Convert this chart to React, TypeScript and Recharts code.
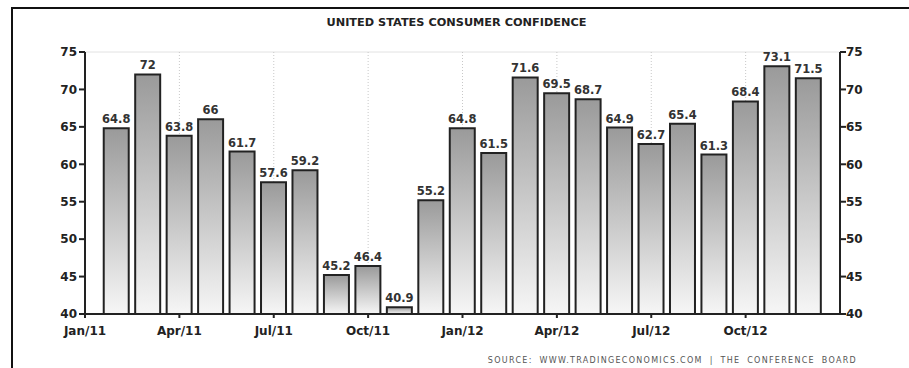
import {
  BarChart,
  Bar,
  XAxis,
  YAxis,
  CartesianGrid,
  LabelList,
} from "recharts";

// monthly readings, Jan/11 .. Nov/12
const months = [
  "Jan/11", "Feb/11", "Mar/11", "Apr/11", "May/11", "Jun/11",
  "Jul/11", "Aug/11", "Sep/11", "Oct/11", "Nov/11", "Dec/11",
  "Jan/12", "Feb/12", "Mar/12", "Apr/12", "May/12", "Jun/12",
  "Jul/12", "Aug/12", "Sep/12", "Oct/12", "Nov/12",
];
const confidence = [
  64.8, 72, 63.8, 66, 61.7, 57.6, 59.2, 45.2, 46.4, 40.9, 55.2, 64.8,
  61.5, 71.6, 69.5, 68.7, 64.9, 62.7, 65.4, 61.3, 68.4, 73.1, 71.5,
];
const xTicks = [0, 3, 6, 9, 12, 15, 18, 21];
const xTickLabels = ["Jan/11", "Apr/11", "Jul/11", "Oct/11", "Jan/12", "Apr/12", "Jul/12", "Oct/12"];
const yTicks = [40, 45, 50, 55, 60, 65, 70, 75];

// bars sit at month end (x = i + 1 on a 0..24 month scale)
const data = months.map((m, i) => ({ month: m, x: i + 1, value: confidence[i] }));

const font = "'DejaVu Sans', Verdana, sans-serif";
const tickStyle = { fontSize: 12, fontWeight: 700, fill: "#222", fontFamily: font };

export default function App() {
  return (
    <div
      style={{
        position: "fixed",
        left: 0,
        top: 0,
        width: 909,
        height: 368,
        background: "#fff",
        overflow: "hidden",
      }}
    >
      <div
        style={{
          position: "absolute",
          left: 11,
          top: 7,
          width: 940,
          height: 420,
          border: "2px solid #111",
        }}
      />
      <div
        style={{
          position: "absolute",
          left: 2,
          top: 16,
          width: 909,
          textAlign: "center",
          fontFamily: font,
          fontWeight: 700,
          fontSize: 11.3,
          color: "#222",
        }}
      >
        UNITED STATES CONSUMER CONFIDENCE
      </div>
      <BarChart
        width={909}
        height={368}
        data={data}
        margin={{ top: 52, right: 29, bottom: 24, left: 45 }}
        style={{ position: "absolute", left: 0, top: 0 }}
      >
        <defs>
          <linearGradient id="barGrad" x1="0" y1="0" x2="0" y2="1">
            <stop offset="0%" stopColor="#9a9a9a" />
            <stop offset="100%" stopColor="#f6f6f6" />
          </linearGradient>
        </defs>
        <CartesianGrid vertical={false} stroke="#e2e2e2" />
        <CartesianGrid horizontal={false} stroke="#c8c8c8" strokeDasharray="1 2" />
        <XAxis
          dataKey="x"
          type="number"
          domain={[0, 24]}
          ticks={xTicks}
          tickFormatter={(v: number) => xTickLabels[xTicks.indexOf(v)] ?? ""}
          axisLine={{ stroke: "#222", strokeWidth: 2 }}
          tickLine={{ stroke: "#222", strokeWidth: 2 }}
          tickSize={4}
          tickMargin={8}
          tick={tickStyle}
          height={30}
          interval={0}
        />
        <YAxis
          yAxisId="left"
          domain={[40, 75]}
          ticks={yTicks}
          allowDataOverflow
          axisLine={{ stroke: "#222", strokeWidth: 2 }}
          tickLine={{ stroke: "#222", strokeWidth: 2 }}
          tickSize={6}
          tickMargin={2}
          tick={tickStyle}
          width={40}
        />
        <YAxis
          yAxisId="right"
          orientation="right"
          domain={[40, 75]}
          ticks={yTicks}
          allowDataOverflow
          axisLine={{ stroke: "#222", strokeWidth: 2 }}
          tickLine={{ stroke: "#222", strokeWidth: 2 }}
          tickSize={6}
          tickMargin={0}
          tick={tickStyle}
          width={40}
        />
        <Bar
          yAxisId="left"
          dataKey="value"
          barSize={25}
          fill="url(#barGrad)"
          stroke="#222"
          strokeWidth={2}
          isAnimationActive={false}
        >
          <LabelList
            dataKey="value"
            position="top"
            offset={5}
            style={{ fontSize: 11.5, fontWeight: 700, fill: "#333", fontFamily: font }}
          />
        </Bar>
      </BarChart>
      <div
        style={{
          position: "absolute",
          right: 52,
          top: 356,
          fontFamily: font,
          fontSize: 8,
          lineHeight: "10px",
          letterSpacing: 1.3,
          wordSpacing: 3,
          color: "#555",
          whiteSpace: "nowrap",
        }}
      >
        SOURCE: WWW.TRADINGECONOMICS.COM | THE CONFERENCE BOARD
      </div>
    </div>
  );
}
